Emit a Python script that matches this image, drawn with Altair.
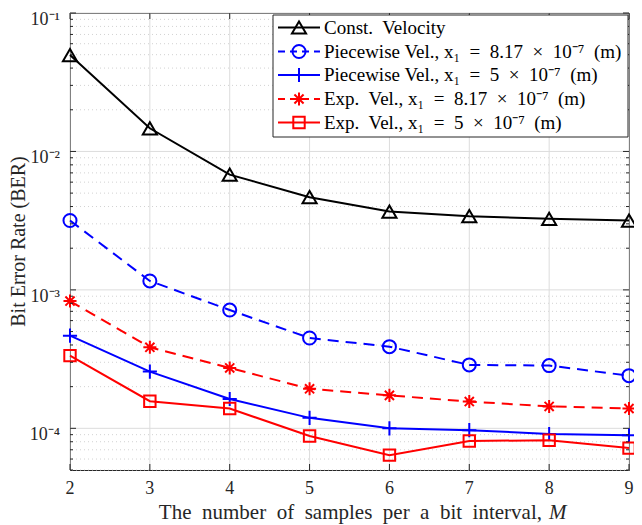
import altair as alt
import pandas as pd

# ---------------- data ----------------
M = [2, 3, 4, 5, 6, 7, 8, 9]
const_vel = [4.97e-2, 1.47e-2, 6.8e-3, 4.67e-3, 3.68e-3, 3.41e-3, 3.26e-3, 3.17e-3]
pw_817 = [3.17e-3, 1.16e-3, 7.15e-4, 4.49e-4, 3.89e-4, 2.87e-4, 2.84e-4, 2.40e-4]
pw_5 = [4.67e-4, 2.57e-4, 1.63e-4, 1.19e-4, 1.0e-4, 9.7e-5, 9.1e-5, 8.9e-5]
exp_817 = [8.3e-4, 3.85e-4, 2.73e-4, 1.93e-4, 1.73e-4, 1.56e-4, 1.44e-4, 1.39e-4]
exp_5 = [3.35e-4, 1.57e-4, 1.39e-4, 8.8e-5, 6.4e-5, 8.1e-5, 8.2e-5, 7.2e-5]

NB = "\u00a0"
labels = [
    "Const." + NB + " Velocity",
    "Piecewise Vel., x\u2081" + NB + " =" + NB + " 8.17" + NB + " \u00d7" + NB + " 10\u207b\u2077" + NB + " (m)",
    "Piecewise Vel., x\u2081" + NB + " =" + NB + " 5" + NB + " \u00d7" + NB + " 10\u207b\u2077" + NB + " (m)",
    "Exp." + NB + " Vel., x\u2081" + NB + " =" + NB + " 8.17" + NB + " \u00d7" + NB + " 10\u207b\u2077" + NB + " (m)",
    "Exp." + NB + " Vel., x\u2081" + NB + " =" + NB + " 5" + NB + " \u00d7" + NB + " 10\u207b\u2077" + NB + " (m)",
]
series_vals = [const_vel, pw_817, pw_5, exp_817, exp_5]
colors = ["#000000", "#0000ff", "#0000ff", "#ff0000", "#ff0000"]
dashed = [False, True, False, True, False]
PLUS = "M-1,0L1,0M0,-1L0,1"
STAR = "M-1,0L1,0M0,-1L0,1M-0.7,-0.7L0.7,0.7M-0.7,0.7L0.7,-0.7"
shapes = ["triangle-up", "circle", PLUS, STAR, "square"]
sizes = [200, 170, 200, 170, 130]

x_major = [2, 3, 4, 5, 6, 7, 8, 9]
x_tick_labels = ["2", "3", "4", "5", "6", "7", "8", "9"]
y_major = [1e-4, 1e-3, 1e-2, 1e-1]
y_tick_labels = ["10\u207b\u2074", "10\u207b\u00b3", "10\u207b\u00b2", "10\u207b\u00b9"]
y_minor = [m * 10.0 ** e for e in (-5, -4, -3, -2) for m in range(2, 10) if 5e-5 <= m * 10.0 ** e < 0.1]

W, H = 559, 457
FONT = "Liberation Serif"
TXT = "#262626"
DASH = [11, 7]

xs = alt.Scale(domain=[2, 9], nice=False, zero=False)
ys = alt.Scale(type="log", domain=[5e-5, 1e-1], nice=False)


def X(f="M:Q"):
    return alt.X(f, scale=xs, axis=None)


def Y(f="BER:Q"):
    return alt.Y(f, scale=ys, axis=None)


rows = []
for lab, vals in zip(labels, series_vals):
    for m, v in zip(M, vals):
        rows.append({"series": lab, "M": m, "BER": v})
df = pd.DataFrame(rows)

# ---------- grid ----------
gx = pd.DataFrame({"M": x_major, "lab": x_tick_labels})
gy = pd.DataFrame({"BER": y_major, "lab": y_tick_labels})
gm = pd.DataFrame({"BER": y_minor})

grid_minor = alt.Chart(gm).mark_rule(color="#d2d2d2", strokeWidth=1, strokeDash=[1, 3]).encode(y=Y())
grid_y = alt.Chart(gy).mark_rule(color="#dcdcdc", strokeWidth=1).encode(y=Y())
grid_x = alt.Chart(gx).mark_rule(color="#dcdcdc", strokeWidth=1).encode(x=X())

# inward ticks
tick_l = alt.Chart(gy).mark_rule(color=TXT, strokeWidth=1).encode(y=Y(), x=alt.value(0), x2=alt.value(6))
tick_r = alt.Chart(gy).mark_rule(color=TXT, strokeWidth=1).encode(y=Y(), x=alt.value(W - 6), x2=alt.value(W))
mtick_l = alt.Chart(gm).mark_rule(color=TXT, strokeWidth=1).encode(y=Y(), x=alt.value(0), x2=alt.value(3))
mtick_r = alt.Chart(gm).mark_rule(color=TXT, strokeWidth=1).encode(y=Y(), x=alt.value(W - 3), x2=alt.value(W))
tick_b = alt.Chart(gx).mark_rule(color=TXT, strokeWidth=1).encode(x=X(), y=alt.value(H - 6), y2=alt.value(H))
tick_t = alt.Chart(gx).mark_rule(color=TXT, strokeWidth=1).encode(x=X(), y=alt.value(0), y2=alt.value(6))

# tick labels (text through the scales)
ylabels = alt.Chart(gy).mark_text(align="right", baseline="alphabetic", dy=12, font=FONT,
                                  fontSize=18, color=TXT).encode(
    y=Y(), x=alt.value(-10), text="lab:N")
xlabels = alt.Chart(gx).mark_text(align="center", baseline="alphabetic", font=FONT,
                                  fontSize=18, color=TXT).encode(
    x=X(), y=alt.value(H + 24), text="lab:N")

layers = [grid_minor, grid_y, grid_x]

for lab, col, dsh, shp, sz in zip(labels, colors, dashed, shapes, sizes):
    d = df[df["series"] == lab]
    lkw = dict(color=col, strokeWidth=2)
    if dsh:
        lkw["strokeDash"] = DASH
    line = alt.Chart(d).mark_line(**lkw).encode(x=X(), y=Y())
    pt = alt.Chart(d).mark_point(shape=shp, size=sz, filled=False, color=col,
                                 strokeWidth=2, opacity=1).encode(x=X(), y=Y())
    layers += [line, pt]

layers += [tick_l, tick_r, mtick_l, mtick_r, tick_b, tick_t, ylabels, xlabels]

# ---------- legend (layout only) ----------
LX1 = W - 1
LX0 = LX1 - 355
LY0, LY1 = 2, 124
row_y = [14.5, 38.5, 62, 86, 109.5]
leg_src = pd.DataFrame({"k": [0]})
layers.append(alt.Chart(leg_src).mark_rect(fill="white", stroke=TXT, strokeWidth=1).encode(
    x=alt.value(LX0), x2=alt.value(LX1), y=alt.value(LY0), y2=alt.value(LY1)))
for lab, col, dsh, shp, sz, ry in zip(labels, colors, dashed, shapes, sizes, row_y):
    rkw = dict(color=col, strokeWidth=2)
    if dsh:
        rkw["strokeDash"] = [7, 5]
    layers.append(alt.Chart(leg_src).mark_rule(**rkw).encode(
        x=alt.value(LX0 + 5), x2=alt.value(LX0 + 47), y=alt.value(ry)))
    layers.append(alt.Chart(leg_src).mark_point(shape=shp, size=sz, filled=False, color=col,
                                                strokeWidth=2, opacity=1).encode(
        x=alt.value(LX0 + 26), y=alt.value(ry)))
    layers.append(alt.Chart(leg_src).mark_text(text=lab, align="left", baseline="middle",
                                               font=FONT, fontSize=19, color="#000000").encode(
        x=alt.value(LX0 + 51), y=alt.value(ry)))

# axis titles
SP = NB + NB
xt = SP.join("The number of samples per a bit interval,".split(" "))
layers.append(alt.Chart(leg_src).mark_text(text=xt, align="right", baseline="alphabetic",
                                           font=FONT, fontSize=21, color=TXT).encode(
    x=alt.value(472), y=alt.value(H + 49)))
layers.append(alt.Chart(leg_src).mark_text(text="M", align="left", baseline="alphabetic", font=FONT,
                                           fontSize=21, fontStyle="italic", color=TXT).encode(
    x=alt.value(479), y=alt.value(H + 49)))
layers.append(alt.Chart(leg_src).mark_text(text="Bit Error Rate (BER)", align="center", baseline="alphabetic",
                                           angle=270, font=FONT, fontSize=20, color=TXT).encode(
    x=alt.value(-45), y=alt.value(H / 2)))

chart = alt.layer(*layers).properties(
    width=W, height=H,
    autosize=alt.AutoSizeParams(type="none"),
    padding={"left": 62, "top": 5, "right": 5, "bottom": 54},
).configure_view(stroke=TXT, strokeWidth=1)

chart.save("out.html", embed_options={"renderer": "svg", "actions": False})
